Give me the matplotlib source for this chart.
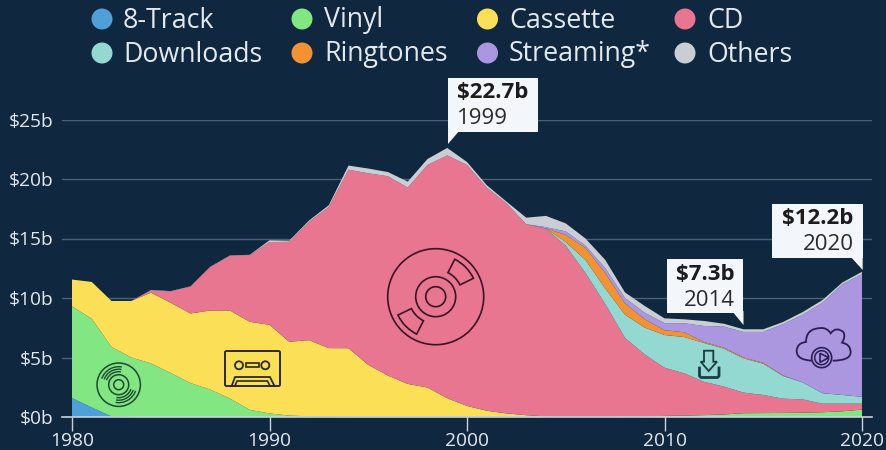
import numpy as np
import matplotlib
matplotlib.use('Agg')
import matplotlib.pyplot as plt
from matplotlib.patches import Circle, Wedge, Polygon, PathPatch, FancyBboxPatch, Rectangle, Arc
from matplotlib.path import Path

plt.rcParams['font.family'] = ['Open Sans', 'DejaVu Sans']

years = list(range(1980, 2021))

# billions of dollars (one value per year, 1980-2020)
track8 = [1.6, 0.8, 0.05] + [0] * 38
vinyl = [7.7, 7.45, 5.85, 5.0, 4.5, 3.7, 2.85, 2.3, 1.55, 0.6,
         0.3, 0.12, 0.06, 0.04, 0.03, 0.03, 0.03, 0.03, 0.03, 0.03,
         0.03, 0.03, 0.02, 0.02, 0.02, 0.02, 0.02, 0.02, 0.05, 0.06,
         0.09, 0.12, 0.16, 0.21, 0.32, 0.33, 0.34, 0.36, 0.4, 0.48, 0.62]
cassette = [2.25, 3.1, 3.85, 4.75, 5.95, 5.9, 5.85, 6.65, 7.4, 7.4,
            7.45, 6.2, 6.4, 5.75, 5.75, 4.35, 3.45, 2.75, 2.45, 1.55,
            0.9, 0.5, 0.28, 0.13, 0.03, 0.01, 0, 0, 0, 0,
            0, 0, 0, 0, 0, 0, 0, 0, 0, 0, 0]
cd = [0, 0, 0, 0, 0.2, 0.95, 2.25, 3.65, 4.6, 5.6,
      6.95, 8.4, 9.95, 11.85, 15.0, 16.1, 16.75, 16.5, 18.7, 20.4,
      20.25, 18.75, 17.65, 16.05, 15.77, 14.37, 12.08, 9.48, 6.6, 5.2,
      4.05, 3.55, 2.8, 2.35, 1.73, 1.52, 1.2, 1.12, 0.72, 0.64, 0.5]
downloads = [0] * 24 + [0.03, 0.3, 1.1, 1.3, 1.95, 2.25,
                        2.75, 3.05, 3.26, 3.19, 2.88, 2.63, 1.91, 1.42, 0.88, 0.73, 0.58]
ringtones = [0] * 25 + [0.6, 1.0, 1.3, 0.95, 0.7,
                        0.4, 0.4, 0.08, 0.08, 0.07, 0.07, 0.05, 0, 0, 0, 0]
streaming = [0] * 24 + [0.1, 0.3, 0.2, 0.4, 0.45, 0.55,
                        0.6, 0.76, 1.35, 1.77, 2.15, 2.6, 4.3, 5.7, 7.6, 9.3, 10.3]
others = [0, 0, 0, 0, 0.03, 0.03, 0.03, 0.03, 0.03, 0.03,
          0.15, 0.1, 0.1, 0.15, 0.35, 0.4, 0.35, 0.5, 0.5, 0.63,
          0.25, 0.2, 0.15, 0.55, 0.95, 0.67, 0.6, 0.7, 0.47, 0.57,
          0.4, 0.33, 0.42, 0.24, 0.22, 0.22, 0.18, 0.22, 0.23, 0.15, 0.2]

series_names = ['8-Track', 'Vinyl', 'Cassette', 'CD', 'Downloads', 'Ringtones', 'Streaming*', 'Others']
series_colors = ['#4f9fd8', '#82e682', '#fbdf57', '#e97691', '#94d8d2', '#f39233', '#ab96e0', '#c9cdd4']

y_ticks = [0, 5, 10, 15, 20, 25]
x_ticks = [1980, 1990, 2000, 2010, 2020]

BG = '#10283f'
INK = '#e4e9ee'
W, H = 886, 450

fig = plt.figure(figsize=(W / 100, H / 100), dpi=100, facecolor=BG)

# axes runs 10px past the data on both sides so the grid lines overhang
left, right, base, top = 62, 872, 417, 119.5
ax = fig.add_axes([left / W, 1 - base / H, (right - left) / W, (base - top) / H], facecolor=BG)
ax.set_xlim(1980 - 10 / 19.75, 2020 + 10 / 19.75)
ax.set_ylim(0, 25)

ax.stackplot(years, track8, vinyl, cassette, cd, downloads, ringtones, streaming, others,
             colors=series_colors, linewidth=0, zorder=3)

ax.set_yticks(y_ticks)
ax.set_yticklabels(['$%db' % t for t in y_ticks], fontsize=13.8, color=INK)
ax.set_xticks(x_ticks)
ax.set_xticklabels([str(t) for t in x_ticks], fontsize=13.8, color=INK)
ax.tick_params(axis='y', length=0, pad=6)
ax.tick_params(axis='x', length=10, width=1, color='#c9d3dc', pad=1)
ax.grid(axis='y', color='#4c6177', linewidth=1, zorder=1)
for name, spine in ax.spines.items():
    spine.set_visible(name == 'bottom')
ax.spines['bottom'].set_color('#c9d3dc')
ax.spines['bottom'].set_linewidth(1.2)
ax.spines['bottom'].set_zorder(4)

# overlay in pixel coordinates for legend, callouts and icons
ov = fig.add_axes([0, 0, 1, 1])
ov.set_xlim(0, W)
ov.set_ylim(H, 0)
ov.axis('off')

# legend
col_dot = [102, 302, 487.5, 685]
col_text = [123, 324, 509, 707]
row_y = [19, 53]
for i, name in enumerate(series_names):
    row = i // 4
    col = i % 4
    ov.add_patch(Circle((col_dot[col], row_y[row]), 10.5, fc=series_colors[i], ec='none'))
    ov.text(col_text[col], row_y[row] + 1.5, name, color=INK, fontsize=19.3, va='center', ha='left')


def callout(x0, x1, y0, y1, tail, value, year, align):
    ov.add_patch(Polygon(tail, closed=True, fc='#f3f6fa', ec='none', zorder=6))
    ov.add_patch(Rectangle((x0, y0), x1 - x0, y1 - y0, fc='#f3f6fa', ec='none', zorder=6))
    tx = x0 + 9 if align == 'left' else x1 - 9
    ov.text(tx, y0 + 15, value, fontsize=16, fontweight='bold', color='#1c1c1c',
            ha=align, va='center', zorder=7)
    ov.text(tx, y0 + 41, year, fontsize=16, color='#2a2a2a', ha=align, va='center', zorder=7)


callout(448, 538, 78, 132, [(448, 130), (448, 144), (460, 130)], '$22.7b', '1999', 'left')
callout(667, 743.5, 259, 313, [(732, 311), (743.5, 325), (743.5, 311)], '$7.3b', '2014', 'right')
callout(772, 862.7, 204, 258, [(850, 256), (862.7, 270), (862.7, 256)], '$12.2b', '2020', 'right')

# --- icons ---
CD_INK = '#3a1224'
cx, cy = 435.7, 296.7
for r in [48, 20, 10]:
    ov.add_patch(Circle((cx, cy), r, fc='none', ec=CD_INK, lw=1.2))
ov.add_patch(Wedge((cx, cy), 42, 297, 334, width=15, fc='none', ec=CD_INK, lw=1.2))
ov.add_patch(Wedge((cx, cy), 42, 117, 154, width=15, fc='none', ec=CD_INK, lw=1.2))

VINYL_INK = '#1c4a32'
cx, cy = 118.7, 384.7
for r in [21.7, 10, 5]:
    ov.add_patch(Circle((cx, cy), r, fc='none', ec=VINYL_INK, lw=1.1))
for r in [13, 15.5, 18]:
    ov.add_patch(Arc((cx, cy), 2 * r, 2 * r, theta1=200, theta2=280, ec=VINYL_INK, lw=1))
    ov.add_patch(Arc((cx, cy), 2 * r, 2 * r, theta1=20, theta2=100, ec=VINYL_INK, lw=1))

TAPE_INK = '#2a2a20'
ov.add_patch(FancyBboxPatch((225, 351), 55, 35, boxstyle='round,pad=0,rounding_size=1.5',
                            fc='none', ec=TAPE_INK, lw=1.4))
ov.add_patch(Circle((239, 365.3), 4, fc='none', ec=TAPE_INK, lw=1.3))
ov.add_patch(Circle((265.3, 365.3), 4, fc='none', ec=TAPE_INK, lw=1.3))
ov.add_patch(Rectangle((246, 363), 13.3, 3.7, fc='none', ec=TAPE_INK, lw=1.2))
ov.plot([231.7, 235, 270, 274.5], [386, 377, 377, 386], color=TAPE_INK, lw=1.3)
ov.plot([235, 237, 267.5, 270], [386, 381, 381, 386], color=TAPE_INK, lw=1.2)

DL_INK = '#1d3a45'
ov.add_patch(Polygon([(704, 350.7), (713.3, 350.7), (713.3, 361.7), (717, 361.7), (708.7, 371),
                      (700.7, 361.7), (704, 361.7)], closed=True, fc='none', ec=DL_INK, lw=1.3))
ov.plot([699.5, 699.5, 701, 717.5, 719, 719], [368, 376, 377.5, 377.5, 376, 368], color=DL_INK, lw=2)

CLOUD_INK = '#2a1f55'


def cp(zx, zy):
    return 780 + zx / 3, 320 + zy / 3


cloud_pts = [cp(100, 122), cp(50, 122), cp(50, 92), cp(52, 68), cp(78, 66),
             cp(78, 24), cp(125, 24), cp(142, 24), cp(152, 40),
             cp(168, 18), cp(190, 36), cp(198, 50), cp(186, 68),
             cp(212, 72), cp(212, 98), cp(210, 122), cp(158, 122)]
cloud_codes = [Path.MOVETO] + [Path.CURVE3] * 16
ov.add_patch(PathPatch(Path(cloud_pts, cloud_codes), fc='none', ec=CLOUD_INK, lw=1.3))
pc = cp(125, 113)
ov.add_patch(Circle(pc, 10, fc='#ab96e0', ec=CLOUD_INK, lw=1.2))
ov.add_patch(Circle(pc, 7, fc='none', ec=CLOUD_INK, lw=1.1))
ov.add_patch(Polygon([cp(120, 100), cp(120, 127), cp(146, 113)], closed=True, fc='none', ec=CLOUD_INK, lw=1.2))

fig.savefig('out.png', dpi=100, facecolor=BG)
